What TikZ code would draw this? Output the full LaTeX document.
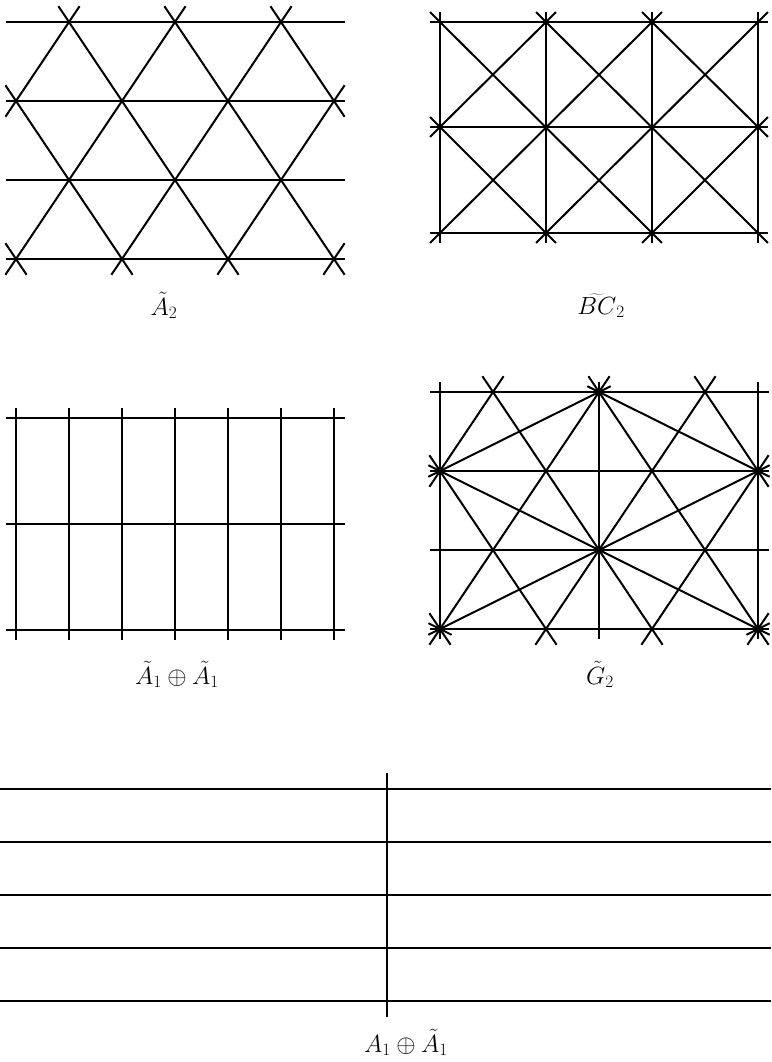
\documentclass[tikz,border=0pt]{standalone}
\tikzset{
  lat/.style={line width=2pt, line cap=butt},
  ext/.style={lat, shorten <=-#1, shorten >=-#1},
  lbl/.style={anchor=base, inner sep=0pt, font=\fontsize{24}{29}\selectfont},
}
\newcommand{\DrawTriLattice}{%
  \foreach \yy in {22,101,180,259} \draw[lat] (6,\yy) -- (345,\yy);
  % lines rising to the right
  \draw[ext=19pt] (16,101) -- (69,22);
  \draw[ext=19pt] (16,259) -- (175,22);
  \draw[ext=19pt] (122,259) -- (281,22);
  \draw[ext=19pt] (228,259) -- (334,101);
  \draw[lat] (334,259) ++(-10.6,15.8) -- ++(21.2,-31.6);
  % lines falling to the right
  \draw[lat] (16,259) ++(-10.6,-15.8) -- ++(21.2,31.6);
  \draw[ext=19pt] (16,101) -- (122,259);
  \draw[ext=19pt] (69,22) -- (228,259);
  \draw[ext=19pt] (175,22) -- (334,259);
  \draw[ext=19pt] (281,22) -- (334,101);
}
\begin{document}
\begin{tikzpicture}[x=1pt,y=-1pt]
\useasboundingbox (0,0) rectangle (771,1062);

% ---------- A2 tilde ----------
\DrawTriLattice
\node[lbl] (lA2) at (164,315) {$\tilde{A}_2$};

% ---------- BC2 tilde ----------
\foreach \yy in {22,127,233} \draw[lat] (430,\yy) -- (768,\yy);
\foreach \xx in {440,546,652,758} \draw[lat] (\xx,12) -- (\xx,243);
\draw[ext=14pt] (440,22) -- (652,233);
\draw[ext=14pt] (546,22) -- (758,233);
\draw[ext=14pt] (652,22) -- (758,127);
\draw[ext=14pt] (440,127) -- (546,233);
\draw[ext=14pt] (440,127) -- (546,22);
\draw[ext=14pt] (440,233) -- (652,22);
\draw[ext=14pt] (546,233) -- (758,22);
\draw[ext=14pt] (652,233) -- (758,127);
\node[lbl] (lBC2) at (601,314) {$\widetilde{BC}_2$};

% ---------- A1 tilde + A1 tilde ----------
\foreach \yy in {418,524,630} \draw[lat] (6,\yy) -- (345,\yy);
\foreach \k in {0,...,6} \draw[lat] ({16+53*\k},408) -- ({16+53*\k},640);
\node[lbl] (lA1A1) at (177,684) {$\tilde{A}_1\oplus\tilde{A}_1$};

% ---------- G2 tilde ----------
\begin{scope}[shift={(424,370)}]
  \DrawTriLattice
  \foreach \xx in {16,175,334} \draw[lat] (\xx,12) -- (\xx,269);
  \draw[ext=13pt] (16,101) -- (175,22);
  \draw[ext=13pt] (175,22) -- (334,101);
  \draw[ext=13pt] (16,101) -- (334,259);
  \draw[ext=13pt] (334,101) -- (16,259);
  \draw[lat] (16,259) ++(-11.6,-5.8) -- ++(23.2,11.6);
  \draw[lat] (334,259) ++(-11.6,5.8) -- ++(23.2,-11.6);
\end{scope}
\node[lbl] (lG2) at (600,684) {$\tilde{G}_2$};

% ---------- A1 + A1 tilde ----------
\foreach \yy in {789,842,895,948,1001} \draw[lat] (0,\yy) -- (771,\yy);
\draw[lat] (387,773) -- (387,1017);
\node[lbl] (lA1) at (406,1052) {$A_1\oplus\tilde{A}_1$};
\end{tikzpicture}
\end{document}
